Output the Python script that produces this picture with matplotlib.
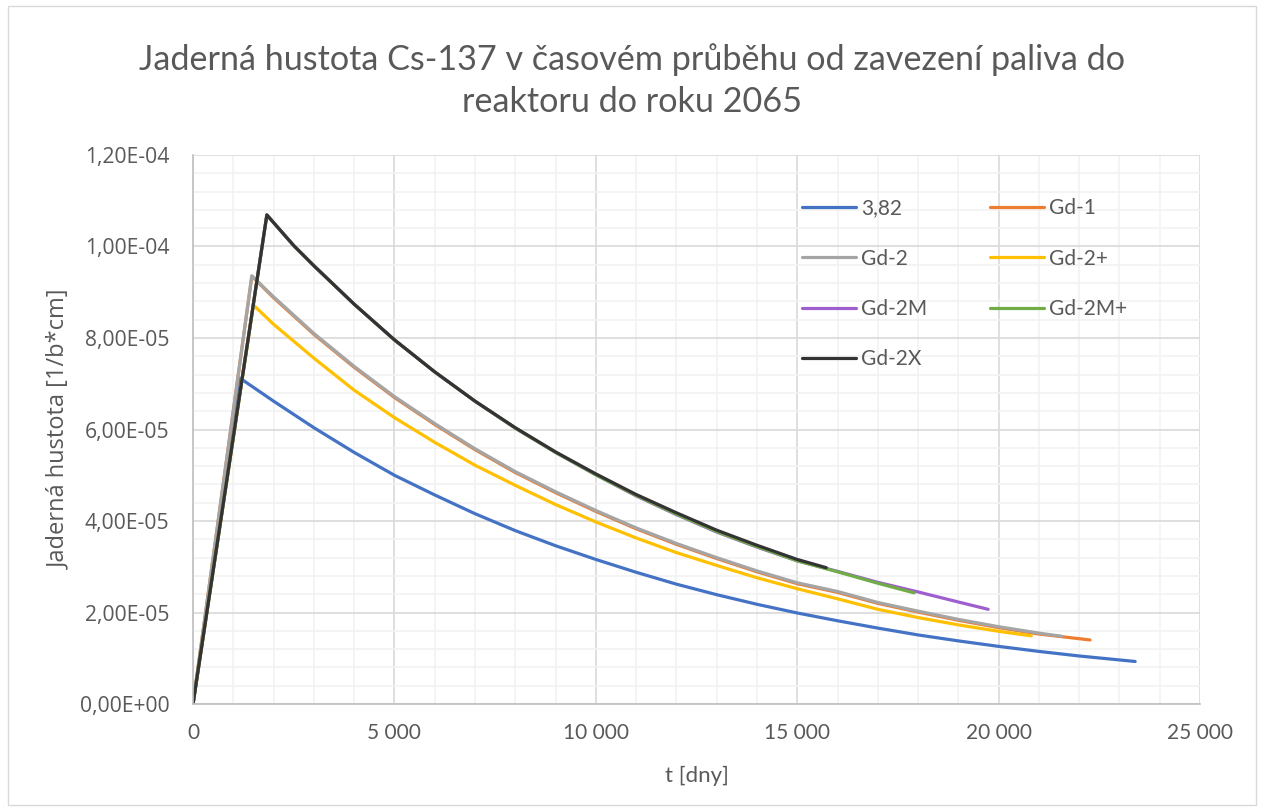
import matplotlib
matplotlib.use("Agg")
import matplotlib.pyplot as plt
from matplotlib.ticker import FuncFormatter, MultipleLocator
from matplotlib.patches import Rectangle

plt.rcParams["font.family"] = ["Lato", "DejaVu Sans"]

# Time in days, nuclear density in 1/(b*cm) (values in units of 1e-6)
t_382 = [0, 1170, 2000, 3000, 4000, 5000, 6000, 7000, 8000, 9000, 10000, 11000,
         12000, 13000, 14000, 15000, 16000, 17000, 18000, 19000, 20000, 21000,
         22000, 23390]
n_382 = [0, 71.2, 66.2, 60.4, 55.0, 50.0, 45.7, 41.6, 37.9, 34.6, 31.6, 28.8,
         26.2, 23.9, 21.8, 19.9, 18.2, 16.6, 15.1, 13.8, 12.6, 11.5, 10.5, 9.3]

t_gd1 = [0, 1460, 2000, 3000, 4000, 5000, 6000, 7000, 8000, 9000, 10000, 11000,
         12000, 13000, 14000, 15000, 16000, 17000, 18000, 19000, 20000, 21000,
         22270]
n_gd1 = [0, 93.5, 88.8, 80.8, 73.6, 67.0, 61.1, 55.6, 50.6, 46.2, 42.1, 38.3,
         34.9, 31.8, 28.9, 26.3, 24.4, 22.0, 20.1, 18.3, 16.7, 15.3, 14.0]

t_gd2 = [0, 1460, 2000, 3000, 4000, 5000, 6000, 7000, 8000, 9000, 10000, 11000,
         12000, 13000, 14000, 15000, 16000, 17000, 18000, 19000, 20000, 21000,
         21570]
n_gd2 = [0, 93.6, 89.0, 81.0, 73.8, 67.2, 61.3, 55.8, 50.8, 46.4, 42.3, 38.5,
         35.1, 32.0, 29.1, 26.5, 24.6, 22.2, 20.3, 18.5, 16.9, 15.5, 14.8]

t_gd2p = [0, 1500, 2000, 3000, 4000, 5000, 6000, 7000, 8000, 9000, 10000, 11000,
          12000, 13000, 14000, 15000, 16000, 17000, 18000, 19000, 20000, 20810]
n_gd2p = [0, 87.2, 83.0, 75.6, 68.6, 62.6, 57.2, 52.2, 47.8, 43.6, 39.8, 36.3,
          33.1, 30.3, 27.6, 25.2, 23.0, 20.7, 18.9, 17.3, 15.9, 14.9]

t_gd2m = [0, 1833, 2500, 3000, 4000, 5000, 6000, 7000, 8000, 9000, 10000, 11000,
          12000, 13000, 14000, 15000, 16000, 17000, 18000, 19000, 19740]
n_gd2m = [0, 106.9, 100.2, 95.8, 87.4, 79.6, 72.6, 66.2, 60.3, 55.0, 50.1, 45.5,
          41.4, 37.6, 34.3, 31.3, 29.0, 26.6, 24.5, 22.3, 20.7]

t_gd2mp = [0, 1833, 2500, 3000, 4000, 5000, 6000, 7000, 8000, 9000, 10000, 11000,
           12000, 13000, 14000, 15000, 16000, 17000, 17900]
n_gd2mp = [0, 106.9, 100.2, 95.8, 87.4, 79.6, 72.6, 66.2, 60.3, 55.0, 50.1, 45.6,
           41.5, 37.7, 34.4, 31.3, 28.9, 26.4, 24.3]

t_gd2x = [0, 1833, 2500, 3000, 4000, 5000, 6000, 7000, 8000, 9000, 10000, 11000,
          12000, 13000, 14000, 15000, 15720]
n_gd2x = [0, 106.9, 100.2, 95.8, 87.4, 79.6, 72.6, 66.2, 60.4, 55.1, 50.3, 45.8,
          41.8, 38.0, 34.7, 31.6, 29.8]

series = [
    ("3,82", t_382, n_382, "#4472C4"),
    ("Gd-1", t_gd1, n_gd1, "#ED7D31"),
    ("Gd-2", t_gd2, n_gd2, "#A5A5A5"),
    ("Gd-2+", t_gd2p, n_gd2p, "#FFC000"),
    ("Gd-2M", t_gd2m, n_gd2m, "#9E5ECE"),
    ("Gd-2M+", t_gd2mp, n_gd2mp, "#70AD47"),
    ("Gd-2X", t_gd2x, n_gd2x, "#333333"),
]

text_color = "#595959"
wide_font = ["Open Sans", "DejaVu Sans"]

fig = plt.figure(figsize=(12.64, 8.11), dpi=100)
fig.patches.append(Rectangle((0.006, 0.008), 0.988, 0.984, transform=fig.transFigure,
                             fill=False, edgecolor="#D9D9D9", linewidth=1.0))
ax = fig.add_axes([0.1527, 0.1319, 0.7967, 0.6770])

handles = {}
for name, t, n, color in series:
    line, = ax.plot(t, [v * 1e-6 for v in n], color=color, lw=2.3,
                    solid_capstyle="round", solid_joinstyle="round", label=name)
    handles[name] = line

ax.set_xlim(0, 25000)
ax.set_ylim(0, 1.2e-4)
ax.xaxis.set_major_locator(MultipleLocator(5000))
ax.xaxis.set_minor_locator(MultipleLocator(1000))
ax.yaxis.set_major_locator(MultipleLocator(2e-5))
ax.yaxis.set_minor_locator(MultipleLocator(4e-6))
ax.xaxis.set_major_formatter(FuncFormatter(lambda v, p: f"{int(round(v)):,}".replace(",", " ")))
ax.yaxis.set_major_formatter(FuncFormatter(lambda v, p: f"{v:.2E}".replace(".", ",")))

ax.grid(which="major", color="#D9D9D9", lw=1.2, zorder=0)
ax.grid(which="minor", color="#F2F2F2", lw=1.2, zorder=0)
ax.set_axisbelow(True)
for s in ("top", "right"):
    ax.spines[s].set_visible(False)
for s in ("left", "bottom"):
    ax.spines[s].set_color("#BFBFBF")
    ax.spines[s].set_linewidth(1.2)
ax.tick_params(which="both", length=0, colors=text_color)
ax.tick_params(axis="x", pad=14, labelsize=15)
ax.tick_params(axis="y", pad=17, labelsize=15.2, labelfontfamily="Open Sans")

ax.set_xlabel("t [dny]", fontsize=16, color=text_color, labelpad=16)
ax.set_ylabel("Jaderná hustota [1/b*cm]", fontsize=17, color=text_color,
              labelpad=6, family=wide_font)

fig.text(0.5, 0.901, "Jaderná hustota Cs-137 v časovém průběhu od zavezení paliva do\nreaktoru do roku 2065",
         ha="center", va="center", fontsize=24.6, color=text_color, linespacing=1.37)

order = ["3,82", "Gd-2", "Gd-2M", "Gd-2X", "Gd-1", "Gd-2+", "Gd-2M+"]
leg = ax.legend([handles[k] for k in order], order, ncol=2, frameon=False,
                loc="upper left", bbox_to_anchor=(0.586, 0.955),
                fontsize=15, handlelength=2.6, handletextpad=0.25,
                columnspacing=3.0, labelspacing=1.45)
for txt in leg.get_texts():
    txt.set_color(text_color)

fig.savefig("out.png", dpi=100)
